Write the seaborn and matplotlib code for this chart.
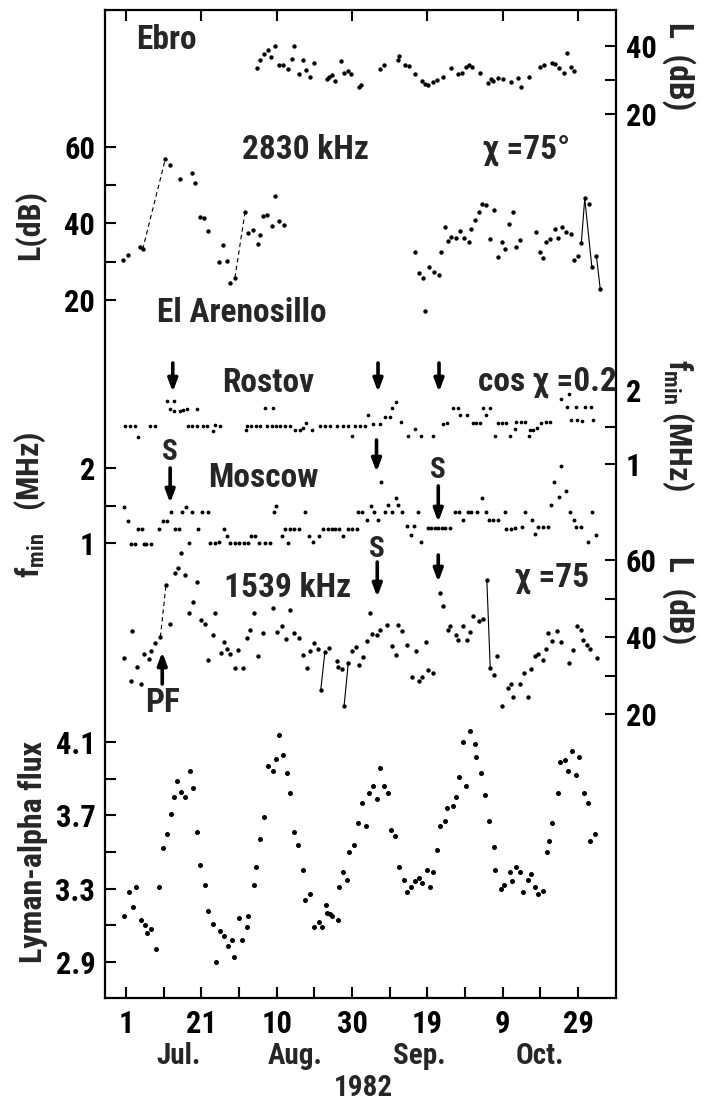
import matplotlib
matplotlib.use('Agg')
import matplotlib.pyplot as plt
from matplotlib import font_manager
import seaborn as sns
import pandas as pd

# day numbers: 1 = 1 July 1982
tick_days = [1, 21, 41, 61, 81, 101, 121]
tick_labels = ['1', '21', '10', '30', '19', '9', '29']
minor_days = [11, 31, 51, 71, 91, 111]
month_days = [15, 46, 79, 111]
month_labels = ['Jul.', 'Aug.', 'Sep.', 'Oct.']

# Ebro, L (dB)
ebro = [(35.7, 33.5), (36.6, 35.9), (37.6, 37.6), (38.8, 38.8), (39.4, 36.7), (40.6, 40.0),
        (41.5, 34.3), (42.8, 34.3), (44.0, 33.2), (45.0, 36.1), (45.5, 40.0), (46.8, 31.8),
        (47.9, 35.8), (48.8, 32.9), (49.9, 31.0), (51.0, 35.1), (54.3, 30.2), (54.9, 31.0),
        (55.6, 31.4), (56.5, 29.8), (58.1, 35.5), (59.0, 32.2), (59.9, 32.7), (60.8, 31.8),
        (62.9, 27.8), (63.4, 28.6), (68.4, 33.1), (69.6, 34.3), (73.3, 35.9), (73.6, 37.1),
        (75.1, 34.3), (76.0, 34.0), (77.6, 31.8), (79.5, 29.8), (80.4, 28.7), (81.1, 28.6),
        (82.6, 29.4), (83.5, 30.0), (85.2, 31.0), (87.3, 33.5), (89.2, 31.8), (90.3, 32.0),
        (91.2, 33.9), (92.1, 34.3), (92.9, 33.9), (95.0, 32.2), (97.0, 29.0), (97.9, 30.2),
        (98.5, 29.8), (99.7, 30.6), (101.2, 30.2), (103.2, 29.4), (105.1, 30.6), (106.0, 28.0),
        (108.0, 31.0), (110.9, 33.7), (112.0, 34.4), (114.2, 34.9), (115.0, 34.7), (115.9, 33.5),
        (117.3, 32.2), (118.0, 38.0), (119.1, 33.9), (120.0, 32.7)]

# El Arenosillo 2830 kHz, L (dB)
arenosillo = [(0.3, 30.4), (1.6, 31.7), (4.6, 33.7), (5.4, 33.2), (11.4, 56.7), (12.7, 55.2),
              (15.3, 51.5), (18.4, 53.2), (19.3, 50.4), (20.5, 41.7), (21.8, 41.3), (22.7, 38.1),
              (25.7, 30.0), (26.7, 34.3), (27.7, 30.3), (28.6, 24.5), (29.9, 25.8), (32.6, 43.0),
              (33.5, 37.4), (34.8, 38.3), (35.9, 34.5), (36.6, 37.0), (37.4, 41.9), (38.5, 42.3),
              (39.7, 39.3), (40.5, 47.1), (41.7, 40.7), (42.9, 39.6),
              (77.7, 32.6), (78.8, 27.0), (79.9, 25.7), (80.3, 17.0), (81.5, 28.5), (82.7, 27.4),
              (84.1, 26.5), (84.7, 32.6), (85.6, 39.0), (86.5, 35.4), (87.4, 36.5), (88.5, 36.3),
              (89.6, 38.1), (90.7, 36.1), (92.1, 35.2), (92.7, 38.4), (93.6, 41.0), (94.7, 43.0),
              (95.4, 45.0), (96.5, 44.8), (97.7, 35.8), (98.6, 43.5), (99.8, 31.1), (100.7, 35.2),
              (101.5, 33.2), (102.7, 39.8), (103.8, 42.9), (104.6, 33.9), (105.5, 35.7), (109.8, 37.8),
              (110.8, 32.6), (111.7, 30.9), (112.4, 35.2), (113.5, 35.8), (114.8, 38.4), (115.7, 36.1),
              (116.8, 39.1), (117.9, 37.8), (119.2, 37.2), (119.9, 30.4), (121.0, 31.5), (121.9, 35.0),
              (122.8, 46.5), (123.9, 45.0), (124.7, 28.5), (125.9, 31.5), (126.9, 23.0)]
arenosillo_dashed = [(3, 4), (16, 17)]
arenosillo_solid = [(69, 70), (70, 72), (73, 74)]

# Rostov, fmin (MHz)
rostov = [(0.8, 1.52), (2.1, 1.52), (3.4, 1.52), (4.1, 1.37), (7.4, 1.52), (8.7, 1.52), (11.8, 1.85),
          (13.8, 1.85), (12.7, 1.74), (13.6, 1.72), (15.2, 1.72), (16.2, 1.73), (17.1, 1.74),
          (19.9, 1.74), (17.5, 1.52), (18.4, 1.52), (19.8, 1.52), (21.5, 1.52), (22.4, 1.52),
          (24.2, 1.45), (24.6, 1.53), (25.9, 1.52), (32.8, 1.46), (33.0, 1.52), (34.3, 1.52),
          (35.5, 1.52), (36.6, 1.52), (37.9, 1.76), (39.9, 1.76), (38.3, 1.52), (39.7, 1.52),
          (40.8, 1.52), (41.9, 1.52), (43.2, 1.52), (44.5, 1.52), (45.8, 1.46), (47.2, 1.46),
          (48.1, 1.48), (48.9, 1.56), (50.3, 1.46), (52.5, 1.52), (53.8, 1.52), (55.1, 1.52),
          (56.9, 1.52), (58.7, 1.52), (60.0, 1.52), (60.9, 1.38), (61.8, 1.52), (63.1, 1.52),
          (64.4, 1.52), (65.3, 1.66), (66.6, 1.54), (68.4, 1.54), (69.7, 1.64), (71.0, 1.64),
          (71.7, 1.76), (72.8, 1.84), (74.1, 1.57), (75.9, 1.38), (77.7, 1.47), (79.4, 1.38),
          (82.4, 1.38), (85.2, 1.54), (86.1, 1.55), (87.7, 1.76), (89.2, 1.76), (89.8, 1.66),
          (91.4, 1.66), (93.0, 1.55), (94.0, 1.56), (94.9, 1.55), (95.8, 1.76), (96.7, 1.66),
          (97.7, 1.76), (98.9, 1.38), (99.8, 1.56), (100.7, 1.56), (102.0, 1.56), (102.9, 1.38),
          (104.2, 1.47), (104.6, 1.57), (106.0, 1.57), (106.9, 1.57), (108.0, 1.38), (108.2, 1.46),
          (109.1, 1.46), (110.0, 1.49), (111.3, 1.56), (112.4, 1.57), (113.5, 1.57), (116.6, 1.88),
          (118.6, 1.94), (118.1, 1.77), (120.6, 1.77), (122.8, 1.77), (124.5, 1.77), (119.1, 1.59),
          (120.7, 1.59), (122.0, 1.58), (125.1, 1.59)]

# Moscow, fmin (MHz)
moscow = [(0.4, 1.48), (1.5, 1.30), (2.4, 0.99), (3.4, 0.99), (4.2, 1.19), (5.2, 1.19), (5.7, 0.99),
          (6.4, 0.99), (7.7, 0.99), (9.8, 1.19), (10.8, 1.30), (11.8, 1.30), (12.9, 1.41), (14.1, 1.19),
          (15.1, 1.19), (15.8, 1.41), (16.9, 1.48), (18.5, 1.41), (17.8, 1.0), (20.1, 1.19), (21.1, 1.41),
          (22.7, 1.41), (23.3, 1.0), (24.7, 1.0), (25.7, 1.01), (26.9, 1.19), (27.9, 1.09), (28.6, 1.0),
          (30.0, 1.0), (31.0, 1.0), (32.2, 1.0), (33.3, 1.0), (34.2, 1.10), (35.3, 1.09), (36.2, 1.0),
          (37.9, 1.0), (39.3, 1.0), (40.4, 1.41), (40.8, 1.49), (42.3, 1.09), (43.2, 1.19), (43.9, 1.0),
          (44.6, 1.19), (45.7, 1.19), (46.8, 1.19), (48.5, 1.41), (49.6, 1.09), (50.7, 1.01), (52.1, 1.09),
          (53.4, 1.19), (54.7, 1.19), (55.6, 1.19), (56.5, 1.19), (57.6, 1.19), (58.7, 1.10), (60.0, 1.19),
          (61.1, 1.19), (62.2, 1.19), (62.5, 1.41), (63.7, 1.41), (64.9, 1.31), (66.0, 1.49), (66.9, 1.41),
          (67.8, 1.31), (68.7, 1.82), (69.8, 1.41), (70.5, 1.51), (71.5, 1.41), (72.6, 1.60), (73.3, 1.51),
          (74.4, 1.41), (75.5, 1.23), (76.7, 1.11), (77.5, 1.23), (78.6, 1.42), (79.3, 1.02), (81.3, 1.2),
          (82.1, 1.2), (83.0, 1.2), (83.9, 1.2), (84.8, 1.2), (85.7, 1.2), (87.0, 1.2), (88.3, 1.42),
          (89.4, 1.41), (90.5, 1.31), (91.7, 1.41), (92.7, 1.41), (94.1, 1.41), (95.4, 1.60), (96.7, 1.41),
          (97.3, 1.31), (98.5, 1.31), (99.8, 1.31), (101.6, 1.42), (102.0, 1.19), (103.2, 1.19),
          (104.2, 1.2), (106.2, 1.21), (106.9, 1.41), (108.7, 1.31), (109.5, 1.12), (110.4, 1.21),
          (111.8, 1.21), (113.1, 1.21), (113.8, 1.51), (114.6, 1.81), (115.9, 1.61), (116.6, 2.03),
          (117.7, 1.70), (118.8, 1.41), (120.0, 1.31), (120.6, 1.21), (121.9, 1.21), (123.7, 1.02),
          (124.6, 1.42), (125.9, 1.11)]

# 1539 kHz, L (dB)
khz1539 = [(0.4, 34.6), (2.2, 28.5), (2.5, 41.5), (3.9, 32.2), (5.0, 27.8), (5.7, 35.5), (7.0, 34.3),
           (7.7, 36.3), (8.7, 38.4), (10.1, 40.0), (11.6, 53.5), (12.7, 43.3), (13.9, 56.5), (14.9, 57.9),
           (15.6, 61.8), (16.7, 56.1), (17.6, 46.3), (18.7, 49.1), (19.9, 54.4), (20.8, 44.5), (22.0, 43.3),
           (22.7, 34.1), (24.0, 40.4), (24.6, 46.3), (26.1, 35.8), (26.9, 38.7), (27.8, 37.0), (28.7, 35.5),
           (29.8, 32.0), (30.8, 36.7), (32.1, 32.0), (33.0, 39.8), (33.8, 41.9), (34.9, 46.3), (36.0, 35.0),
           (37.3, 41.1), (39.9, 47.6), (41.1, 41.3), (42.3, 42.8), (43.5, 39.6), (44.5, 47.1), (45.5, 41.0),
           (47.0, 39.7), (47.9, 35.2), (49.0, 32.0), (49.9, 36.3), (51.0, 38.4), (51.9, 37.0), (52.7, 26.3),
           (53.8, 36.1), (54.9, 37.2), (57.0, 33.7), (57.4, 32.2), (58.3, 31.7), (58.9, 22.2), (60.0, 33.2),
           (60.9, 36.3), (62.0, 37.4), (62.8, 32.6), (63.8, 34.8), (64.9, 39.0), (65.8, 46.3), (66.3, 40.9),
           (67.6, 40.4), (68.3, 41.9), (70.4, 43.2), (71.5, 37.7), (72.7, 35.4), (73.3, 43.0), (74.2, 41.5),
           (75.6, 37.8), (76.8, 29.7), (78.0, 36.3), (78.7, 28.7), (79.5, 29.7), (80.6, 38.7), (81.3, 31.5),
           (82.6, 30.6), (84.4, 51.5), (85.2, 48.1), (86.4, 41.9), (87.0, 42.8), (88.5, 40.4), (89.1, 39.3),
           (90.4, 42.8), (91.4, 39.1), (92.3, 41.3), (93.2, 45.4), (94.6, 44.2), (95.7, 44.8), (96.8, 54.8),
           (97.7, 32.0), (98.6, 30.2), (99.4, 35.0), (100.8, 22.2), (102.3, 26.8), (103.2, 27.8),
           (103.8, 24.5), (105.6, 27.8), (106.8, 30.6), (107.7, 24.5), (108.6, 31.7), (109.5, 35.0),
           (110.4, 35.7), (111.7, 34.1), (112.6, 36.8), (113.1, 41.0), (114.2, 39.0), (115.4, 41.5),
           (116.4, 38.7), (118.5, 33.3), (119.7, 36.5), (120.7, 42.8), (121.7, 41.7), (122.3, 39.3),
           (123.5, 37.8), (124.2, 37.0), (126.1, 34.6)]
khz1539_dashed = [(9, 10)]
khz1539_solid = [(48, 49), (54, 55), (90, 91)]

# Lyman-alpha flux
lyman = [(0.5, 3.15), (1.7, 3.28), (2.8, 3.20), (3.6, 3.31), (4.9, 3.13), (5.9, 3.10), (6.5, 3.06),
         (7.7, 3.08), (8.9, 2.97), (9.8, 3.31), (10.9, 3.52), (11.9, 3.60), (12.8, 3.71), (13.6, 3.80),
         (14.6, 3.89), (15.7, 3.83), (16.7, 3.80), (17.9, 3.94), (18.7, 3.85), (19.7, 3.61), (20.5, 3.43),
         (22.0, 3.32), (22.8, 3.18), (24.0, 3.11), (25.0, 2.90), (26.0, 3.07), (27.0, 3.04), (28.0, 2.99),
         (29.0, 3.02), (29.6, 2.93), (30.9, 3.14), (31.9, 3.02), (33.0, 3.09), (33.5, 3.15), (35.0, 3.32),
         (35.5, 3.42), (36.6, 3.57), (37.5, 3.69), (38.6, 3.97), (39.9, 3.94), (40.9, 4.01), (41.5, 4.14),
         (42.6, 4.03), (43.8, 3.93), (44.5, 3.82), (45.5, 3.61), (46.7, 3.54), (48.0, 3.40), (48.6, 3.24),
         (49.9, 3.27), (51.0, 3.09), (52.1, 3.12), (53.0, 3.09), (54.1, 3.21), (54.4, 3.17), (55.1, 3.16),
         (55.7, 3.15), (57.3, 3.13), (57.6, 3.31), (58.6, 3.39), (59.6, 3.35), (60.3, 3.50), (61.4, 3.54),
         (62.5, 3.66), (63.6, 3.77), (64.6, 3.64), (65.5, 3.82), (66.6, 3.86), (67.6, 3.79), (68.5, 3.96),
         (69.5, 3.86), (70.6, 3.82), (71.3, 3.62), (72.5, 3.59), (73.6, 3.42), (74.7, 3.35), (75.7, 3.28),
         (76.6, 3.31), (77.7, 3.34), (78.7, 3.36), (79.6, 3.33), (80.8, 3.40), (81.6, 3.31), (82.5, 3.39),
         (83.6, 3.51), (84.4, 3.64), (85.6, 3.67), (86.1, 3.74), (87.7, 3.75), (88.6, 3.80), (89.3, 3.91),
         (90.4, 4.10), (91.3, 3.86), (92.2, 4.16), (93.6, 4.09), (94.0, 4.02), (95.3, 3.93), (96.4, 3.81),
         (97.3, 3.67), (98.7, 3.53), (99.1, 3.40), (100.6, 3.30), (101.4, 3.32), (102.9, 3.39),
         (103.6, 3.34), (104.5, 3.42), (105.7, 3.39), (106.3, 3.28), (107.7, 3.35), (108.5, 3.38),
         (109.5, 3.31), (110.3, 3.27), (111.7, 3.29), (112.8, 3.50), (113.4, 3.56), (114.2, 3.66),
         (115.6, 3.82), (116.2, 3.99), (117.6, 4.00), (118.3, 3.94), (119.4, 4.05), (120.5, 3.92),
         (121.3, 4.02), (122.5, 3.82), (123.6, 3.77), (124.3, 3.56), (125.5, 3.60)]

# event days marked with arrows
rostov_arrow_days = [13.4, 67.9, 84.1]
moscow_arrow_days = [12.7, 67.5, 83.9]
khz1539_arrow_days = [67.7, 83.9]
pf_day = 10.6

sns.set_style('ticks')
avail = {f.name for f in font_manager.fontManager.ttflist}
FONT = next(f for f in ['Liberation Sans Narrow', 'Roboto Condensed', 'Liberation Sans', 'DejaVu Sans'] if f in avail)
plt.rcParams['font.family'] = [FONT, 'DejaVu Sans']
plt.rcParams['font.weight'] = 'bold'
plt.rcParams['mathtext.fontset'] = 'custom'
plt.rcParams['mathtext.rm'] = FONT + ':bold'
plt.rcParams['mathtext.it'] = FONT + ':bold'
plt.rcParams['mathtext.bf'] = FONT + ':bold'

W, H = 702, 1107
fig = plt.figure(figsize=(W / 100, H / 100), dpi=100)
fig.patch.set_facecolor('white')
L, R, T, B = 105, 616, 10, 998
XLIM = (-4.6, 131.1)
TICK = dict(direction='in', length=8, width=1.5, colors='black')


def fx(px):
    return px / W


def fy(px):
    return 1 - px / H


frame = fig.add_axes([fx(L), fy(B), fx(R - L), (B - T) / H])
frame.set_xlim(*XLIM)
frame.set_ylim(0, 1)
frame.set_yticks([])
frame.set_xticks(tick_days, labels=tick_labels)
frame.set_xticks(minor_days, minor=True)
frame.tick_params(axis='x', which='both', labelsize=22, pad=8, **TICK)
frame.tick_params(axis='x', which='major', top=True)
for s in frame.spines.values():
    s.set_linewidth(1.6)
    s.set_color('black')


def ylim_from(v1, p1, v2, p2, top, bot):
    k = (v1 - v2) / (p2 - p1)
    return v1 - (bot - p1) * k, v1 + (p1 - top) * k


def panel(top, bot, anchors, side, ticks, labels, minor=()):
    ax = fig.add_axes([fx(L), fy(bot), fx(R - L), (bot - top) / H])
    ax.patch.set_visible(False)
    for s in ax.spines.values():
        s.set_visible(False)
    ax.set_xticks([])
    if side == 'right':
        ax.yaxis.tick_right()
    ax.set_yticks(ticks, labels=labels)
    ax.set_yticks(list(minor), minor=True)
    ax.tick_params(axis='y', which='both', labelsize=22, pad=7, **TICK)
    ax.set_ylim(*ylim_from(*anchors, top, bot))
    ax._lims = ax.get_ylim()
    return ax


def draw(ax, pts, cols, size, dashed=(), solid=()):
    df = pd.DataFrame(pts, columns=cols)
    sns.scatterplot(data=df, x=cols[0], y=cols[1], ax=ax, color='black', s=size,
                    linewidth=0, legend=False, clip_on=False)
    for links, ls in ((dashed, (0, (4, 3))), (solid, '-')):
        for i, j in links:
            seg = df.iloc[[i, j]]
            ax.plot(seg[cols[0]], seg[cols[1]], color='black', lw=0.8, ls=ls)
    ax.set_xlim(*XLIM)
    ax.set_ylim(*ax._lims)
    ax.set_xlabel('')
    ax.set_ylabel('')


ax_ebro = panel(10, 140, (40, 46, 20, 114), 'right', [20, 30, 40], ['20', '', '40'])
draw(ax_ebro, ebro, ['day', 'L'], 10)

ax_are = panel(125, 330, (60, 146.7, 20, 300), 'left', [20, 30, 40, 50, 60], ['20', '', '40', '', '60'])
draw(ax_are, arenosillo, ['day', 'L'], 10, arenosillo_dashed, arenosillo_solid)

ax_ros = panel(355, 480, (2, 390, 1, 464), 'right', [1, 1.5, 2], ['1', '', '2'])
draw(ax_ros, rostov, ['day', 'fmin'], 7)

ax_mos = panel(440, 560, (2, 468, 1, 543), 'left', [1, 1.5, 2], ['1', '', '2'])
draw(ax_mos, moscow, ['day', 'fmin'], 8)

ax_153 = panel(540, 730, (60, 560, 20, 714), 'right', [20, 30, 40, 50, 60], ['20', '', '40', '', '60'])
draw(ax_153, khz1539, ['day', 'L'], 10, khz1539_dashed, khz1539_solid)

ax_ly = panel(715, 998, (4.1, 742, 2.9, 962), 'left', [2.9, 3.1, 3.3, 3.5, 3.7, 3.9, 4.1],
              ['2.9', '', '3.3', '', '3.7', '', '4.1'])
draw(ax_ly, lyman, ['day', 'flux'], 13)


def label(x, y, s, size=24, **kw):
    fig.text(fx(x), fy(y), s, ha='center', va='center', fontsize=size, fontweight='bold', **kw)


label(166, 40, 'Ebro')
label(305, 150, '2830 kHz')
label(527, 150, 'χ =75°')
label(242, 313, 'El Arenosillo')
label(268, 383, 'Rostov')
label(547, 382, 'cos χ =0.2')
label(263, 478, 'Moscow')
label(288, 588, '1539 kHz')
label(552, 578, 'χ =75')
label(163, 703, 'PF')

# axis titles
label(30, 225, 'L(dB)', 23, rotation=90)
label(30, 505, r'$\mathrm{f_{min}}$   (MHz)', 23, rotation=90)
label(33, 852, 'Lyman-alpha flux', 23, rotation=90)
label(679, 66, 'L  (dB)', 24, rotation=270)
label(678, 425, r'$\mathrm{f_{min}}$ (MHz)', 23, rotation=270)
label(679, 600, 'L  (dB)', 24, rotation=270)

ARROW = dict(arrowstyle='-|>,head_length=0.75,head_width=0.28', lw=2.6, color='black',
             shrinkA=0, shrinkB=0)
XY = ('data', 'figure fraction')


def arrow(day, tail, tip):
    frame.annotate('', xy=(day, fy(tip)), xytext=(day, fy(tail)), xycoords=XY, textcoords=XY,
                   arrowprops=ARROW, annotation_clip=False)


def s_mark(day, y):
    frame.annotate('S', xy=(day, fy(y)), xycoords=XY, ha='center', va='center',
                   fontsize=21, fontweight='bold', annotation_clip=False)


for d in rostov_arrow_days:
    arrow(d, 363, 392)
arrow(moscow_arrow_days[0], 468, 503)
arrow(moscow_arrow_days[1], 440, 472)
arrow(moscow_arrow_days[2], 486, 522)
s_mark(moscow_arrow_days[0], 452)
s_mark(moscow_arrow_days[2], 470)
arrow(khz1539_arrow_days[0], 562, 597)
arrow(khz1539_arrow_days[1], 555, 582)
s_mark(khz1539_arrow_days[0], 549)
arrow(pf_day, 684, 652)

for d, m in zip(month_days, month_labels):
    frame.annotate(m, xy=(d, fy(1056)), xycoords=XY, ha='center', va='center',
                   fontsize=21, fontweight='bold', annotation_clip=False)
label(363, 1088, '1982', 21)

fig.savefig('out.png', dpi=100, facecolor='white')
